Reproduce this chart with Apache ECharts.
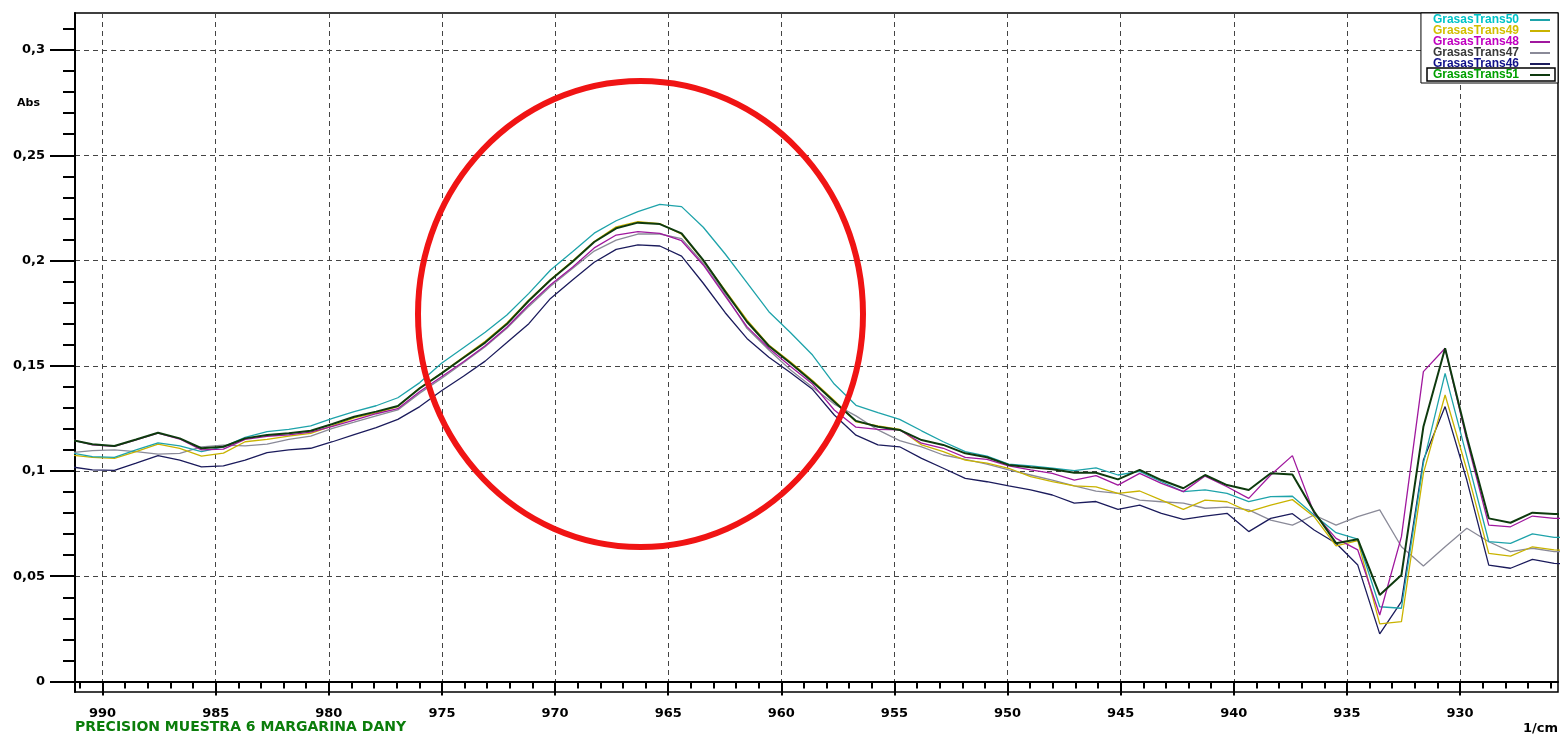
<!DOCTYPE html>
<html>
<head>
<meta charset="utf-8">
<title>Precision muestra 6 margarina</title>
<script src="https://cdn.jsdelivr.net/npm/echarts@6/dist/echarts.min.js"></script>
<style>
  html, body { margin: 0; padding: 0; background: #ffffff; }
  #chart { width: 1562px; height: 738px; }
</style>
</head>
<body>
<div id="chart"></div>
<script>
// Wavenumber sampling (1/cm), left to right (descending)
const wavenumbers = [
  991.41, 990.45, 989.48, 988.52, 987.55, 986.59, 985.63, 984.66, 983.70, 982.73,
  981.77, 980.80, 979.84, 978.88, 977.91, 976.95, 975.98, 975.02, 974.05, 973.09,
  972.13, 971.16, 970.20, 969.23, 968.27, 967.30, 966.34, 965.37, 964.41, 963.45,
  962.48, 961.52, 960.55, 959.59, 958.62, 957.66, 956.70, 955.73, 954.77, 953.80,
  952.84, 951.87, 950.91, 949.95, 948.98, 948.02, 947.05, 946.09, 945.12, 944.16,
  943.20, 942.23, 941.27, 940.30, 939.34, 938.37, 937.41, 936.45, 935.48, 934.52,
  933.55, 932.59, 931.62, 930.66, 929.70, 928.73, 927.77, 926.80, 925.84, 924.87
];

// Absorbance spectra
const grasasTrans50 = [
  0.1087, 0.1068, 0.1065, 0.1100, 0.1134, 0.1119, 0.1092, 0.1115, 0.1160, 0.1187,
  0.1198, 0.1214, 0.1250, 0.1282, 0.1310, 0.1348, 0.1420, 0.1512, 0.1586, 0.1659,
  0.1741, 0.1844, 0.1955, 0.2042, 0.2130, 0.2189, 0.2232, 0.2267, 0.2256, 0.2158,
  0.2031, 0.1895, 0.1757, 0.1657, 0.1551, 0.1413, 0.1312, 0.1277, 0.1245, 0.1191,
  0.1139, 0.1092, 0.1071, 0.1033, 0.1024, 0.1013, 0.1002, 0.1015, 0.0981, 0.0998,
  0.0949, 0.0902, 0.0910, 0.0894, 0.0854, 0.0878, 0.0880, 0.0791, 0.0707, 0.0676,
  0.0355, 0.0348, 0.1037, 0.1464, 0.1068, 0.0664, 0.0656, 0.0701, 0.0685, 0.0682
];
const grasasTrans49 = [
  0.1076, 0.1065, 0.1060, 0.1092, 0.1128, 0.1108, 0.1071, 0.1085, 0.1139, 0.1150,
  0.1166, 0.1179, 0.1214, 0.1252, 0.1276, 0.1306, 0.1395, 0.1466, 0.1542, 0.1616,
  0.1703, 0.1813, 0.1910, 0.1998, 0.2090, 0.2160, 0.2185, 0.2175, 0.2125, 0.2000,
  0.1858, 0.1718, 0.1598, 0.1518, 0.1430, 0.1335, 0.1234, 0.1214, 0.1198, 0.1124,
  0.1092, 0.1052, 0.1037, 0.1013, 0.0973, 0.0949, 0.0929, 0.0925, 0.0894, 0.0905,
  0.0862, 0.0818, 0.0862, 0.0854, 0.0807, 0.0838, 0.0864, 0.0783, 0.0644, 0.0669,
  0.0274, 0.0284, 0.0989, 0.1361, 0.1005, 0.0609, 0.0596, 0.0640, 0.0625, 0.0622
];
const grasasTrans48 = [
  0.1150, 0.1124, 0.1117, 0.1148, 0.1180, 0.1152, 0.1100, 0.1104, 0.1150, 0.1165,
  0.1172, 0.1185, 0.1212, 0.1242, 0.1272, 0.1296, 0.1378, 0.1448, 0.1519, 0.1595,
  0.1683, 0.1790, 0.1885, 0.1968, 0.2060, 0.2121, 0.2137, 0.2129, 0.2094, 0.1979,
  0.1831, 0.1686, 0.1583, 0.1496, 0.1413, 0.1290, 0.1208, 0.1198, 0.1195, 0.1132,
  0.1108, 0.1065, 0.1055, 0.1024, 0.1005, 0.0989, 0.0957, 0.0978, 0.0933, 0.0989,
  0.0941, 0.0902, 0.0976, 0.0925, 0.0870, 0.0981, 0.1073, 0.0799, 0.0680, 0.0625,
  0.0316, 0.0688, 0.1472, 0.1583, 0.1147, 0.0743, 0.0735, 0.0786, 0.0775, 0.0773
];
const grasasTrans47 = [
  0.1087, 0.1097, 0.1100, 0.1092, 0.1080, 0.1084, 0.1115, 0.1123, 0.1119, 0.1128,
  0.1150, 0.1166, 0.1203, 0.1232, 0.1262, 0.1290, 0.1370, 0.1440, 0.1514, 0.1590,
  0.1678, 0.1782, 0.1878, 0.1962, 0.2045, 0.2097, 0.2126, 0.2126, 0.2104, 0.1987,
  0.1839, 0.1678, 0.1575, 0.1480, 0.1398, 0.1318, 0.1262, 0.1195, 0.1144, 0.1115,
  0.1076, 0.1055, 0.1033, 0.1005, 0.0981, 0.0957, 0.0929, 0.0904, 0.0894, 0.0862,
  0.0854, 0.0847, 0.0823, 0.0828, 0.0815, 0.0767, 0.0743, 0.0791, 0.0743, 0.0783,
  0.0815, 0.0640, 0.0549, 0.0640, 0.0728, 0.0664, 0.0617, 0.0633, 0.0617, 0.0615
];
const grasasTrans46 = [
  0.1020, 0.1005, 0.1003, 0.1037, 0.1073, 0.1052, 0.1020, 0.1024, 0.1052, 0.1087,
  0.1100, 0.1108, 0.1139, 0.1173, 0.1206, 0.1245, 0.1306, 0.1381, 0.1450, 0.1522,
  0.1610, 0.1700, 0.1820, 0.1907, 0.1992, 0.2053, 0.2074, 0.2069, 0.2021, 0.1892,
  0.1752, 0.1630, 0.1540, 0.1467, 0.1388, 0.1266, 0.1170, 0.1124, 0.1115, 0.1060,
  0.1013, 0.0965, 0.0949, 0.0929, 0.0910, 0.0886, 0.0847, 0.0855, 0.0818, 0.0838,
  0.0799, 0.0770, 0.0786, 0.0799, 0.0712, 0.0775, 0.0797, 0.0720, 0.0657, 0.0553,
  0.0226, 0.0379, 0.1052, 0.1306, 0.0957, 0.0553, 0.0538, 0.0580, 0.0561, 0.0558
];
const grasasTrans51 = [
  0.1148, 0.1127, 0.1119, 0.1150, 0.1182, 0.1155, 0.1108, 0.1115, 0.1155, 0.1171,
  0.1179, 0.1191, 0.1223, 0.1258, 0.1282, 0.1309, 0.1393, 0.1464, 0.1538, 0.1610,
  0.1698, 0.1809, 0.1907, 0.1994, 0.2088, 0.2153, 0.2180, 0.2173, 0.2129, 0.2002,
  0.1852, 0.1709, 0.1594, 0.1512, 0.1424, 0.1329, 0.1238, 0.1210, 0.1195, 0.1147,
  0.1124, 0.1084, 0.1065, 0.1029, 0.1018, 0.1008, 0.0992, 0.0992, 0.0960, 0.1005,
  0.0957, 0.0918, 0.0981, 0.0933, 0.0910, 0.0989, 0.0983, 0.0807, 0.0657, 0.0676,
  0.0411, 0.0506, 0.1210, 0.1583, 0.1163, 0.0775, 0.0754, 0.0802, 0.0796, 0.0794
];

// Legend order and names
const seriesNames = ['GrasasTrans50', 'GrasasTrans49', 'GrasasTrans48', 'GrasasTrans47', 'GrasasTrans46', 'GrasasTrans51'];

// Tick positions
const xMajorTicks = [930, 935, 940, 945, 950, 955, 960, 965, 970, 975, 980, 985, 990];
const xMinorTicks = [926, 927, 928, 929, 930, 931, 932, 933, 934, 935, 936, 937, 938, 939, 940,
  941, 942, 943, 944, 945, 946, 947, 948, 949, 950, 951, 952, 953, 954, 955, 956, 957, 958,
  959, 960, 961, 962, 963, 964, 965, 966, 967, 968, 969, 970, 971, 972, 973, 974, 975, 976,
  977, 978, 979, 980, 981, 982, 983, 984, 985, 986, 987, 988, 989, 990, 991];
const yMajorTicks = [0, 0.05, 0.1, 0.15, 0.2, 0.25, 0.3];
const yMinorTicks = [0, 0.01, 0.02, 0.03, 0.04, 0.05, 0.06, 0.07, 0.08, 0.09, 0.1, 0.11, 0.12,
  0.13, 0.14, 0.15, 0.16, 0.17, 0.18, 0.19, 0.2, 0.21, 0.22, 0.23, 0.24, 0.25, 0.26, 0.27,
  0.28, 0.29, 0.3, 0.31];

const X_MIN = 925.67, X_MAX = 991.22;
const Y_MIN = -0.005, Y_MAX = 0.3176;

const lineColors = {
  GrasasTrans50: '#1ea3aa',
  GrasasTrans49: '#c9b300',
  GrasasTrans48: '#a0189e',
  GrasasTrans47: '#8a8a98',
  GrasasTrans46: '#1b1b5c',
  GrasasTrans51: '#0e3a0e'
};
const legendTextColors = {
  GrasasTrans50: '#00c4c8',
  GrasasTrans49: '#d2bf00',
  GrasasTrans48: '#c000c0',
  GrasasTrans47: '#3a3a3a',
  GrasasTrans46: '#10108a',
  GrasasTrans51: '#00a000'
};
const seriesData = {
  GrasasTrans50: grasasTrans50,
  GrasasTrans49: grasasTrans49,
  GrasasTrans48: grasasTrans48,
  GrasasTrans47: grasasTrans47,
  GrasasTrans46: grasasTrans46,
  GrasasTrans51: grasasTrans51
};
// Drawing order (last on top)
const drawOrder = ['GrasasTrans47', 'GrasasTrans46', 'GrasasTrans49', 'GrasasTrans50', 'GrasasTrans48', 'GrasasTrans51'];

const labelFont = { fontFamily: 'DejaVu Sans', fontWeight: 'bold', fontSize: 13, color: '#000' };
const gridDash = { color: '#444', width: 1, type: [5, 4] };

const chart = echarts.init(document.getElementById('chart'), null, { renderer: 'canvas' });

chart.setOption({
  animation: false,
  backgroundColor: '#ffffff',
  grid: {
    left: 75, right: 4, top: 13, bottom: 46,
    show: true, borderColor: '#000', borderWidth: 1.5, backgroundColor: 'transparent',
    containLabel: false
  },
  xAxis: [
    {
      type: 'value', inverse: true, min: X_MIN, max: X_MAX, position: 'bottom',
      axisLine: { show: true, lineStyle: { color: '#000', width: 2 } },
      axisTick: { show: true, inside: false, length: 14, customValues: xMajorTicks, lineStyle: { color: '#000', width: 2 } },
      axisLabel: { show: true, customValues: xMajorTicks, margin: 15, ...labelFont, formatter: v => String(Math.round(v)) },
      splitLine: { show: true, lineStyle: gridDash }
    },
    {
      type: 'value', inverse: true, min: X_MIN, max: X_MAX, position: 'bottom',
      axisLine: { show: false },
      axisTick: { show: true, inside: false, length: 7, customValues: xMinorTicks, lineStyle: { color: '#000', width: 2 } },
      axisLabel: { show: false },
      splitLine: { show: false }
    }
  ],
  yAxis: [
    {
      type: 'value', min: Y_MIN, max: Y_MAX, position: 'left',
      axisLine: { show: true, lineStyle: { color: '#000', width: 2 } },
      axisTick: { show: true, inside: false, length: 25, customValues: yMajorTicks, lineStyle: { color: '#000', width: 2 } },
      axisLabel: {
        show: true, customValues: yMajorTicks, margin: 30, ...labelFont,
        formatter: v => (Math.abs(v) < 1e-9 ? '0' : String(+v.toFixed(2)).replace('.', ','))
      },
      splitLine: { show: true, lineStyle: gridDash }
    },
    {
      type: 'value', min: Y_MIN, max: Y_MAX, position: 'left', offset: 0,
      axisLine: { show: false },
      axisTick: { show: true, inside: false, length: 12, customValues: yMinorTicks, lineStyle: { color: '#000', width: 2 } },
      axisLabel: { show: false },
      splitLine: { show: false }
    }
  ],
  legend: {
    orient: 'vertical', right: 4, top: 13, align: 'right',
    icon: 'rect', itemWidth: 20, itemHeight: 2, itemGap: -1,
    padding: [1, 8, 2, 12],
    backgroundColor: '#ffffff', borderColor: '#000', borderWidth: 1,
    selectedMode: false,
    textStyle: { fontFamily: 'Liberation Sans', fontWeight: 'bold', fontSize: 12, lineHeight: 11, padding: [0, 6, 0, 0] },
    data: seriesNames.map(n => ({ name: n, textStyle: { color: legendTextColors[n] } }))
  },
  series: drawOrder.map(name => ({
    name: name,
    type: 'line',
    xAxisIndex: 0,
    yAxisIndex: 0,
    showSymbol: false,
    symbol: 'none',
    clip: true,
    color: lineColors[name],
    lineStyle: { color: lineColors[name], width: name === 'GrasasTrans51' ? 2 : 1.3 },
    data: wavenumbers.map((w, i) => [w, seriesData[name][i]])
  })),
  graphic: [
    {
      type: 'text', left: 17, top: 98, z: 50,
      style: { text: 'Abs', fontFamily: 'DejaVu Sans', fontWeight: 'bold', fontSize: 11, fill: '#000' }
    },
    {
      type: 'text', right: 4, top: 722, z: 50,
      style: { text: '1/cm', fontFamily: 'DejaVu Sans', fontWeight: 'bold', fontSize: 13, fill: '#000' }
    },
    {
      type: 'text', left: 75, top: 720, z: 50,
      style: { text: 'PRECISION MUESTRA 6 MARGARINA DANY', fontFamily: 'DejaVu Sans', fontWeight: 'bold', fontSize: 14, fill: '#0b7d0b' }
    },
    {
      // highlight frame around the active spectrum entry in the legend
      type: 'rect', z: 60, silent: true,
      shape: { x: 1427, y: 68, width: 128, height: 13 },
      style: { fill: 'none', stroke: '#000', lineWidth: 1.5 }
    },
    {
      // red annotation ring around the 966 1/cm trans band
      type: 'ellipse', z: 70, silent: true,
      shape: { cx: 640.5, cy: 314, rx: 222.5, ry: 233 },
      style: { fill: 'none', stroke: '#f01414', lineWidth: 6 }
    }
  ]
});
</script>
</body>
</html>
